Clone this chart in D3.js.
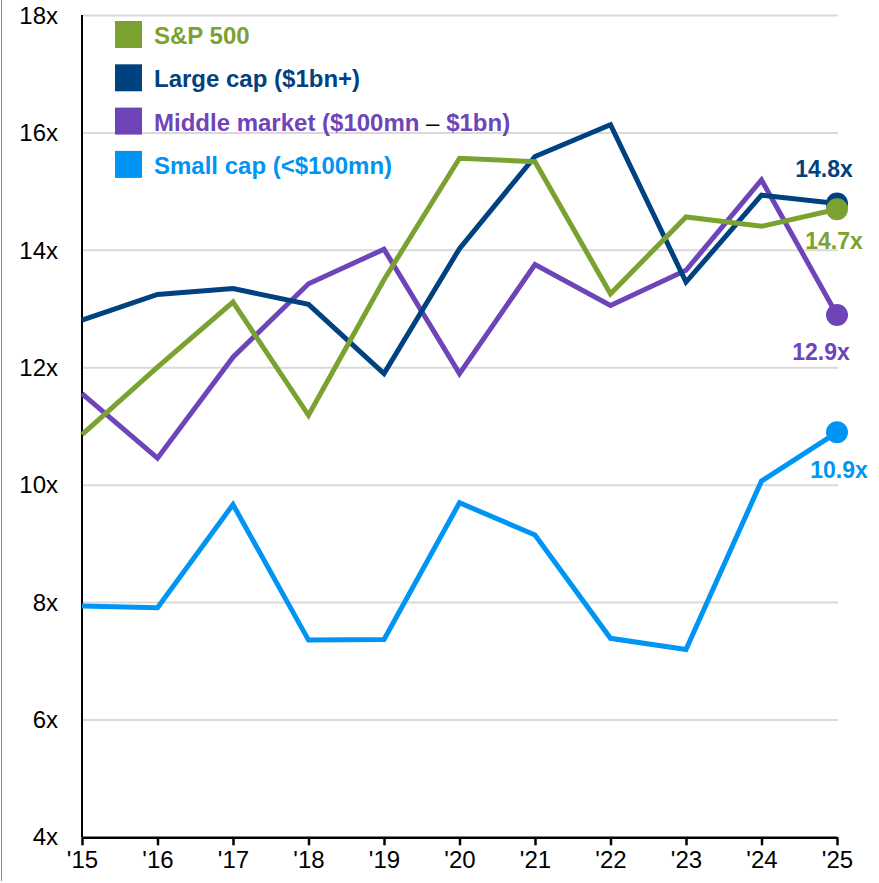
<!DOCTYPE html>
<html>
<head>
<meta charset="utf-8">
<script src="https://cdn.jsdelivr.net/npm/d3@7"></script>
<style>
  html, body { margin: 0; padding: 0; background: #fff; }
  svg { display: block; font-family: Arial, "Liberation Sans", sans-serif; }
</style>
</head>
<body>
<svg id="chart" width="879" height="883"></svg>
<script>
// Years on the x axis
const years = [2015, 2016, 2017, 2018, 2019, 2020, 2021, 2022, 2023, 2024, 2025];
const yearLabels = ["'15", "'16", "'17", "'18", "'19", "'20", "'21", "'22", "'23", "'24", "'25"];

// Valuation multiples per segment
const sp500      = [10.86, 12.01, 13.12, 11.19, 13.5, 15.57, 15.51, 13.26, 14.57, 14.41, 14.7];
const largeCap   = [12.81, 13.25, 13.35, 13.08, 11.9, 14.03, 15.6, 16.14, 13.46, 14.94, 14.8];
const middleMkt  = [11.56, 10.46, 12.18, 13.43, 14.02, 11.9, 13.76, 13.06, 13.66, 15.2, 12.9];
const smallCap   = [7.94, 7.91, 9.67, 7.36, 7.37, 9.7, 9.15, 7.39, 7.2, 10.07, 10.9];

const yTicks = [4, 6, 8, 10, 12, 14, 16, 18];

const seriesNames = ["S&P 500", "Large cap ($1bn+)", "Middle market ($100mn – $1bn)", "Small cap (<$100mn)"];
const seriesColors = ["#7BA230", "#00427F", "#6E45B9", "#0095F5"];

const series = [
  { name: seriesNames[0], color: seriesColors[0], values: sp500 },
  { name: seriesNames[1], color: seriesColors[1], values: largeCap },
  { name: seriesNames[2], color: seriesColors[2], values: middleMkt },
  { name: seriesNames[3], color: seriesColors[3], values: smallCap }
];

const svg = d3.select("#chart");
const plotLeft = 82, plotRight = 837, plotTop = 15.6, plotBottom = 837.3;

const x = d3.scaleLinear().domain([2015, 2025]).range([plotLeft, plotRight]);
const y = d3.scaleLinear().domain([4, 18]).range([plotBottom, plotTop]);

// Thin frame line at the far left
svg.append("line")
  .attr("x1", 1.5).attr("x2", 1.5).attr("y1", 0).attr("y2", 881)
  .attr("stroke", "#8a8a8a").attr("stroke-width", 1);

// Horizontal gridlines
svg.append("g").selectAll("line")
  .data(yTicks.filter(t => t > 4))
  .join("line")
  .attr("x1", plotLeft).attr("x2", plotRight + 1)
  .attr("y1", d => y(d)).attr("y2", d => y(d))
  .attr("stroke", "#d9d9d9").attr("stroke-width", 2);

// Y axis labels (no tick marks)
const yAxis = d3.axisLeft(y).tickValues(yTicks).tickFormat(d => d + "x").tickSize(0).tickPadding(24);
const gy = svg.append("g").attr("transform", `translate(${plotLeft},0)`).call(yAxis);
gy.select(".domain").remove();
gy.selectAll("text").attr("font-size", 24).attr("fill", "#000")
  .attr("font-family", "Arial, 'Liberation Sans', sans-serif");

// Y axis line
svg.append("line")
  .attr("x1", plotLeft).attr("x2", plotLeft).attr("y1", plotTop - 0.5).attr("y2", plotBottom)
  .attr("stroke", "#000").attr("stroke-width", 2);

// X axis
const xAxis = d3.axisBottom(x).tickValues(years)
  .tickFormat((d, i) => yearLabels[i]).tickSize(8).tickPadding(6).tickSizeOuter(0);
const gx = svg.append("g").attr("transform", `translate(0,${plotBottom})`).call(xAxis);
gx.select(".domain").attr("stroke", "#000").attr("stroke-width", 2.5);
gx.selectAll(".tick line").attr("stroke", "#000").attr("stroke-width", 2.5);
gx.selectAll("text").attr("font-size", 24).attr("fill", "#000")
  .attr("font-family", "Arial, 'Liberation Sans', sans-serif");

// Lines, drawn so the S&P 500 sits on top
const line = d3.line().x((d, i) => x(years[i])).y(d => y(d));
const drawOrder = [series[3], series[2], series[1], series[0]];

const gLines = svg.append("g");
drawOrder.forEach(s => {
  gLines.append("path")
    .datum(s.values)
    .attr("d", line)
    .attr("fill", "none")
    .attr("stroke", s.color)
    .attr("stroke-width", 5)
    .attr("stroke-linejoin", "miter")
    .attr("stroke-linecap", "butt");
});
drawOrder.forEach(s => {
  const last = s.values.length - 1;
  gLines.append("circle")
    .attr("cx", x(years[last]))
    .attr("cy", y(s.values[last]))
    .attr("r", 11)
    .attr("fill", s.color);
});

// End-value labels
const endLabels = [
  { s: series[1], dx: -13, dy: -26 },
  { s: series[0], dx: -3, dy: 40 },
  { s: series[2], dx: -16, dy: 45 },
  { s: series[3], dx: 2, dy: 46 }
];
endLabels.forEach(l => {
  const last = l.s.values.length - 1;
  svg.append("text")
    .attr("x", x(years[last]) + l.dx)
    .attr("y", y(l.s.values[last]) + l.dy)
    .attr("text-anchor", "middle")
    .attr("font-size", 23)
    .attr("font-weight", "bold")
    .attr("fill", l.s.color)
    .text(l.s.values[last].toFixed(1) + "x");
});

// Legend
const legend = svg.append("g");
series.forEach((s, i) => {
  const cy = 34.5 + i * 43.3;
  legend.append("rect")
    .attr("x", 115).attr("y", cy - 13.5)
    .attr("width", 27).attr("height", 27)
    .attr("fill", s.color);
  const t = legend.append("text")
    .attr("x", 154).attr("y", cy + 9.5)
    .attr("font-size", 24)
    .attr("font-weight", "bold")
    .attr("fill", s.color);
  if (s.name.includes("–")) {
    const parts = s.name.split("–");
    t.append("tspan").text(parts[0]);
    t.append("tspan").attr("font-weight", "normal").attr("fill", "#000").text("–");
    t.append("tspan").text(parts[1]);
  } else {
    t.text(s.name);
  }
});
</script>
</body>
</html>
